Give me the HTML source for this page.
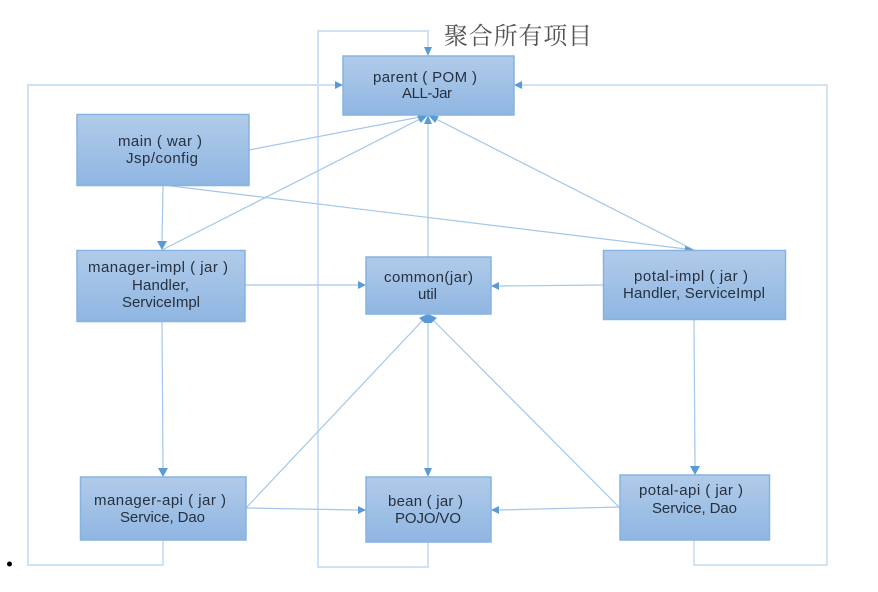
<!DOCTYPE html>
<html>
<head>
<meta charset="utf-8">
<style>
html,body{margin:0;padding:0;background:#fff;width:878px;height:592px;overflow:hidden}
svg{display:block}
text{font-family:"Liberation Sans","Noto Sans CJK SC",sans-serif;font-size:15px;fill:#26303f}
.t{font-family:"Liberation Serif","Noto Serif CJK SC",serif;font-size:24px;fill:#555}
.b{fill:url(#g);stroke:#85b3e2;stroke-width:1.5}
.l{fill:none;stroke:#cfe1f4;stroke-width:2}
.r{fill:none;stroke:#b5d2ef;stroke-width:1.2}
.c{fill:none;stroke:#a3c7ea;stroke-width:1.2}
.a{fill:#5b9bd5}
g.w{filter:blur(0.3px)}
</style>
</head>
<body>
<svg width="878" height="592" viewBox="0 0 878 592" xmlns="http://www.w3.org/2000/svg">
<defs>
<linearGradient id="g" x1="0" y1="0" x2="0" y2="1">
<stop offset="0" stop-color="#b1cbe9"/>
<stop offset="1" stop-color="#8fb6e2"/>
</linearGradient>
</defs>

<polyline class="l" points="163,540 163,565 28,565 28,85 335,85"/>
<polyline class="l" points="428,542 428,567 318,567 318,31 428,31 428,48"/>
<polyline class="r" points="694,540 694,565 827,565 827,85 522,85"/>

<line class="c" x1="249" y1="150" x2="420" y2="117"/>
<line class="c" x1="162" y1="250" x2="420" y2="119"/>
<line class="c" x1="428" y1="257" x2="428" y2="123"/>
<line class="c" x1="694" y1="250" x2="436" y2="119"/>
<line class="c" x1="163" y1="185" x2="162" y2="243"/>
<line class="c" x1="163" y1="185" x2="686" y2="249"/>
<line class="c" x1="245" y1="285" x2="358" y2="285"/>
<line class="c" x1="603" y1="285" x2="499" y2="286"/>
<line class="c" x1="162" y1="321" x2="163" y2="469"/>
<line class="c" x1="694" y1="319" x2="695" y2="467"/>
<line class="c" x1="246" y1="508" x2="423" y2="320"/>
<line class="c" x1="246" y1="508" x2="358" y2="510"/>
<line class="c" x1="428" y1="322" x2="428" y2="469"/>
<line class="c" x1="620" y1="508" x2="433" y2="320"/>
<line class="c" x1="620" y1="507" x2="499" y2="510"/>

<polygon class="a" points="428,56 424,47 432,47"/>
<polygon class="a" points="343,85 335,81 335,89"/>
<polygon class="a" points="514,85 522,81 522,89"/>
<polygon class="a" points="428,115 417.400,113 419,121"/>
<polygon class="a" points="428,115 417.200,116 420.800,123"/>
<polygon class="a" points="428,115 438.800,116 435.200,123"/>
<polygon class="a" points="428,115 424,124 432,124"/>
<polygon class="a" points="162,250 157,241 167,241"/>
<polygon class="a" points="694,250 685,246 685,254"/>
<polygon class="a" points="366,285 358,281 358,289"/>
<polygon class="a" points="491,286 499,282 499,290"/>
<polygon class="a" points="428,314 424,323 432,323"/>
<polygon class="a" points="428,314 419,317.900 424.800,323.300"/>
<polygon class="a" points="428,314 437,317.900 431.200,323.300"/>
<polygon class="a" points="163,477 158,468 168,468"/>
<polygon class="a" points="695,475 690,466 700,466"/>
<polygon class="a" points="428,477 424,468 432,468"/>
<polygon class="a" points="366,510 358,506 358,514"/>
<polygon class="a" points="491,510 499,506 499,514"/>

<rect class="b" x="343" y="56" width="171" height="59"/>
<rect class="b" x="77" y="114.500" width="172" height="71"/>
<rect class="b" x="77" y="250.500" width="168" height="71"/>
<rect class="b" x="366" y="257" width="125" height="57"/>
<rect class="b" x="603.500" y="250.500" width="182" height="69"/>
<rect class="b" x="80.500" y="477" width="165.500" height="63"/>
<rect class="b" x="366" y="477" width="125" height="65"/>
<rect class="b" x="620" y="475" width="149.500" height="65"/>

<g class="w">
<text class="t" x="444" y="44" textLength="148">聚合所有项目</text>
<text x="373" y="82" textLength="104" xml:space="preserve">parent ( POM )</text>
<text x="402" y="98" textLength="50">ALL-Jar</text>
<text x="118" y="146" textLength="84" xml:space="preserve">main ( war )</text>
<text x="126" y="163" textLength="72">Jsp/config</text>
<text x="88" y="272" textLength="140" xml:space="preserve">manager-impl ( jar )</text>
<text x="132" y="290" textLength="57">Handler,</text>
<text x="122" y="307" textLength="78">ServiceImpl</text>
<text x="384" y="282" textLength="89">common(jar)</text>
<text x="418" y="299" textLength="19">util</text>
<text x="634" y="281" textLength="114" xml:space="preserve">potal-impl ( jar )</text>
<text x="623" y="298" textLength="142">Handler, ServiceImpl</text>
<text x="94" y="505" textLength="132" xml:space="preserve">manager-api ( jar )</text>
<text x="120" y="522" textLength="85">Service, Dao</text>
<text x="388" y="506" textLength="75" xml:space="preserve">bean ( jar )</text>
<text x="395" y="523" textLength="66">POJO/VO</text>
<text x="639" y="495" textLength="104" xml:space="preserve">potal-api ( jar )</text>
<text x="652" y="513" textLength="85">Service, Dao</text>
</g>

<circle cx="9.500" cy="564" r="2.500" fill="#000"/>
</svg>
</body>
</html>
